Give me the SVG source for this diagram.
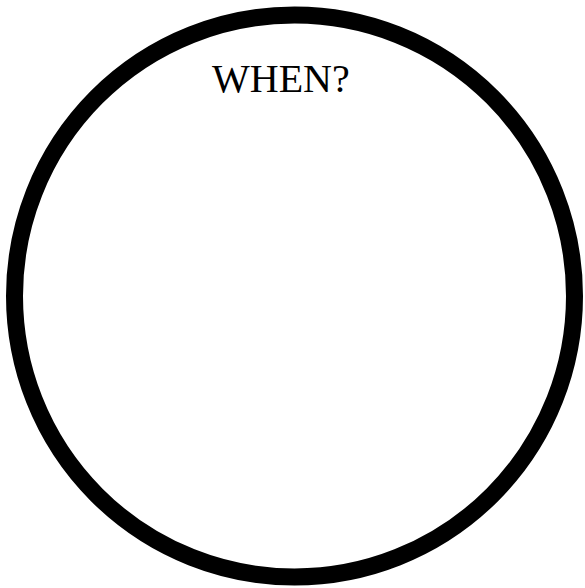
<svg xmlns="http://www.w3.org/2000/svg" width="585" height="588" viewBox="0 0 585 588">
<style>
.ring{fill:none;stroke:#000;}
.lbl{font-family:"Liberation Serif","Times New Roman",serif;font-size:40px;fill:#000;}
</style>
<rect width="585" height="588" fill="#fff"/>
<g id="circle">
<ellipse class="ring" cx="294.5" cy="296" rx="280" ry="281" stroke-width="17"/>
</g>
<g id="label">
<text class="lbl" x="212" y="92">WHEN?</text>
</g>
</svg>
